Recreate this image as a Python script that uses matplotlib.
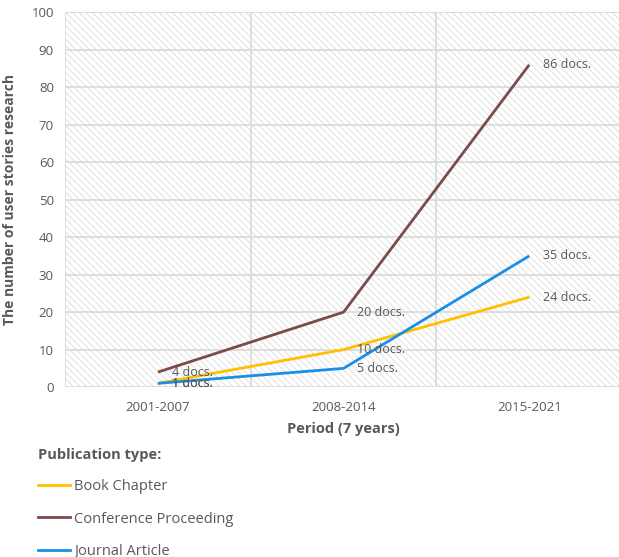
import matplotlib
matplotlib.use("Agg")
import matplotlib.pyplot as plt
from matplotlib.lines import Line2D

plt.rcParams['font.family'] = ['Open Sans', 'DejaVu Sans']
plt.rcParams['hatch.color'] = '#dcdcdc'
plt.rcParams['hatch.linewidth'] = 0.6

periods = ["2001-2007", "2008-2014", "2015-2021"]
series_names = ["Book Chapter", "Conference Proceeding", "Journal Article"]
book_chapter = [1, 10, 24]
conference_proceeding = [4, 20, 86]
journal_article = [1, 5, 35]
colors = ["#FFC000", "#7B4B4B", "#1A8FE6"]

text_color = "#595959"
grid_color = "#d9d9d9"

fig = plt.figure(figsize=(6.19, 5.57), dpi=100)
ax = fig.add_axes([0.105, 0.305, 0.9, 0.673])

# hatched plot background
ax.patch.set_facecolor("white")
ax.patch.set_hatch("\\\\\\\\\\")
ax.patch.set_edgecolor("#dcdcdc")
ax.patch.set_linewidth(0)

x = list(range(len(periods)))
values = [book_chapter, conference_proceeding, journal_article]
for vals, col in zip(values, colors):
    ax.plot(x, vals, color=col, lw=2.0, solid_capstyle="butt", zorder=3)

# value labels to the right of each point
for vals in values:
    for xi, v in zip(x, vals):
        ax.annotate(f"{v} docs.", (xi, v), xytext=(10, 0), textcoords="offset points",
                    va="center", ha="left", fontsize=9, color=text_color, zorder=4)

ax.set_xlim(-0.5, 2.5)
ax.set_ylim(0, 100)
ax.set_yticks(range(0, 101, 10))
ax.set_xticks(x)
ax.set_xticklabels(periods)
ax.set_xticks([-0.5, 0.5, 1.5, 2.5], minor=True)
ax.tick_params(which="both", length=0)
ax.tick_params(axis="y", labelsize=9.5, labelcolor=text_color, pad=8)
ax.tick_params(axis="x", labelsize=9.5, labelcolor=text_color, pad=10)

ax.grid(axis="y", which="major", color=grid_color, lw=1.2, zorder=1)
ax.grid(axis="x", which="minor", color=grid_color, lw=1.2, zorder=1)
ax.set_axisbelow(True)
for s in ax.spines.values():
    s.set_visible(False)

ax.set_xlabel("Period (7 years)", fontsize=10.5, fontweight="bold", color=text_color, labelpad=6)
ax.set_ylabel("The number of user stories research", fontsize=10, fontweight="bold",
              color=text_color, labelpad=10)

# legend below the chart
handles = [Line2D([0], [0], color=c, lw=2.0) for c in colors]
leg = fig.legend(handles, series_names, loc="upper left", bbox_to_anchor=(0.061, 0.195),
                 frameon=False, title="Publication type:", alignment="left",
                 fontsize=10.5, labelcolor=text_color, handlelength=2.2, handletextpad=0.3,
                 labelspacing=1.2, borderaxespad=0, borderpad=0)
leg.get_title().set_fontweight("bold")
leg.get_title().set_fontsize(10.5)
leg.get_title().set_color(text_color)
leg._legend_box.sep = 12

fig.savefig("out.png", dpi=100)
